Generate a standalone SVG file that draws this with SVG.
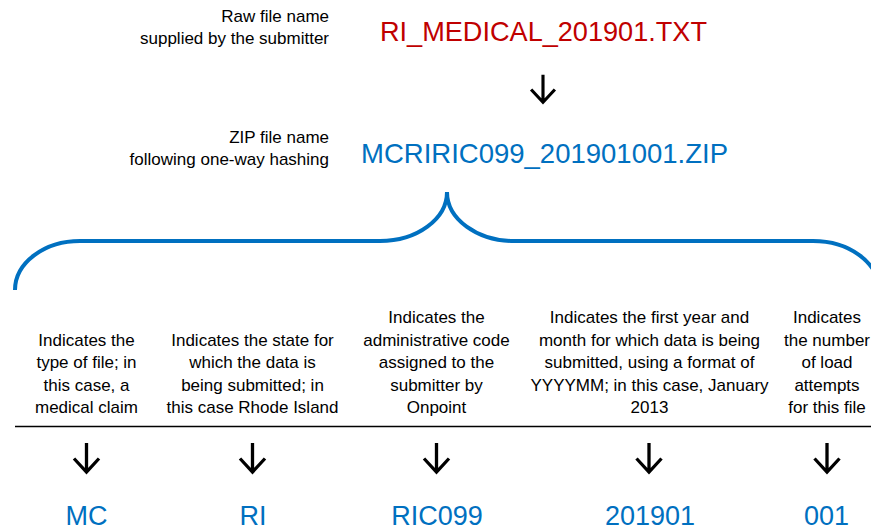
<svg xmlns="http://www.w3.org/2000/svg" width="871" height="531" viewBox="0 0 871 531">
<style>
  text { font-family: "Liberation Sans", Arial, sans-serif; }
  .lbl { font-size: 17px; fill: #000; }
  .c { text-anchor: middle; }
  .r { text-anchor: end; }
  .big { font-size: 27.5px; }
  .code { font-size: 27px; }
  .red { fill: #C00000; }
  .blue { fill: #0070C0; }
  .arr { fill: none; stroke: #000; stroke-width: 3.3; stroke-linejoin: miter; }
  .brace { fill: none; stroke: #0070C0; stroke-width: 4; }
</style>
<defs>
  <path id="arrow" class="arr" d="M0,-15 V14 M-12.5,0.5 L0,14 L12.5,0.5"/>
</defs>
<rect width="871" height="531" fill="#fff"/>

<g id="raw-label">
  <text class="lbl r" x="329" y="22">Raw file name</text>
  <text class="lbl r" x="329" y="44">supplied by the submitter</text>
</g>
<g id="raw-name">
  <text class="big red" x="380" y="41" textLength="327" lengthAdjust="spacingAndGlyphs">RI_MEDICAL_201901.TXT</text>
</g>
<g id="zip-label">
  <text class="lbl r" x="329" y="143">ZIP file name</text>
  <text class="lbl r" x="329" y="165">following one-way hashing</text>
</g>
<g id="zip-name">
  <text class="big blue" x="361" y="163" textLength="367" lengthAdjust="spacingAndGlyphs">MCRIRIC099_201901001.ZIP</text>
</g>

<g id="connectors">
  <use href="#arrow" transform="translate(543,89) scale(0.95)"/>
  <path class="brace" d="M15,290 A65,49 0 0 1 80,241 H380 A67,49 0 0 0 447,192 A67,49 0 0 0 514,241 H813 A66,49 0 0 1 879,290"/>
  <line x1="15" y1="426.5" x2="871" y2="426.5" stroke="#000" stroke-width="1.5"/>
  <use href="#arrow" transform="translate(86.5,458)"/>
  <use href="#arrow" transform="translate(252.5,458)"/>
  <use href="#arrow" transform="translate(436.5,458)"/>
  <use href="#arrow" transform="translate(649,458)"/>
  <use href="#arrow" transform="translate(827,458)"/>
</g>

<g id="desc-type">
  <text class="lbl c" x="86.5" y="345.5">Indicates the</text>
  <text class="lbl c" x="86.5" y="368">type of file; in</text>
  <text class="lbl c" x="86.5" y="390.5">this case, a</text>
  <text class="lbl c" x="86.5" y="413">medical claim</text>
</g>
<g id="desc-state">
  <text class="lbl c" x="252.5" y="345.5">Indicates the state for</text>
  <text class="lbl c" x="252.5" y="368">which the data is</text>
  <text class="lbl c" x="252.5" y="390.5">being submitted; in</text>
  <text class="lbl c" x="252.5" y="413">this case Rhode Island</text>
</g>
<g id="desc-code">
  <text class="lbl c" x="436.5" y="323">Indicates the</text>
  <text class="lbl c" x="436.5" y="345.5">administrative code</text>
  <text class="lbl c" x="436.5" y="368">assigned to the</text>
  <text class="lbl c" x="436.5" y="390.5">submitter by</text>
  <text class="lbl c" x="436.5" y="413">Onpoint</text>
</g>
<g id="desc-date">
  <text class="lbl c" x="649.5" y="323">Indicates the first year and</text>
  <text class="lbl c" x="649.5" y="345.5">month for which data is being</text>
  <text class="lbl c" x="649.5" y="368">submitted, using a format of</text>
  <text class="lbl c" x="649.5" y="390.5">YYYYMM; in this case, January</text>
  <text class="lbl c" x="649.5" y="413">2013</text>
</g>
<g id="desc-attempts">
  <text class="lbl c" x="827" y="323">Indicates</text>
  <text class="lbl c" x="827" y="345.5">the number</text>
  <text class="lbl c" x="827" y="368">of load</text>
  <text class="lbl c" x="827" y="390.5">attempts</text>
  <text class="lbl c" x="827" y="413">for this file</text>
</g>

<g id="code-mc"><text class="code blue c" x="86.5" y="525">MC</text></g>
<g id="code-ri"><text class="code blue c" x="253" y="525">RI</text></g>
<g id="code-ric099"><text class="code blue c" x="437" y="525">RIC099</text></g>
<g id="code-201901"><text class="code blue c" x="650" y="525">201901</text></g>
<g id="code-001"><text class="code blue c" x="826.5" y="525">001</text></g>
</svg>
